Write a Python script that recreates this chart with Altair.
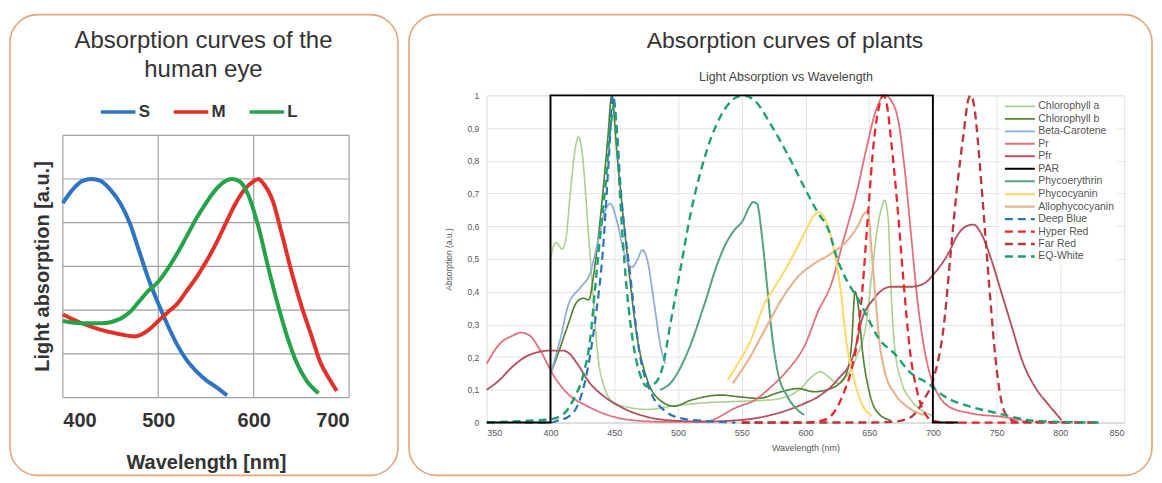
import altair as alt
import pandas as pd

# ---------------- Left panel: human eye cones ----------------
cone_names = ["S", "M", "L"]
cone_colors = ["#2f74c0", "#e0312b", "#26a24b"]

s_wl = [400, 410, 420, 430, 440, 450, 460, 470, 480, 490, 500, 510, 520, 530, 540, 550, 560, 572]
s_abs = [0.89, 0.95, 0.99, 1.0, 0.99, 0.95, 0.89, 0.80, 0.67, 0.54, 0.43, 0.33, 0.24, 0.17, 0.12, 0.08, 0.05, 0.01]

m_wl = [400, 420, 440, 460, 475, 490, 500, 510, 520, 530, 540, 550, 560, 570, 580, 590, 600, 605, 610, 620, 630, 640, 650, 660, 670, 680, 687]
m_abs = [0.38, 0.34, 0.31, 0.29, 0.28, 0.31, 0.35, 0.39, 0.43, 0.49, 0.55, 0.62, 0.70, 0.79, 0.88, 0.95, 0.99, 1.0, 0.98, 0.90, 0.74, 0.57, 0.42, 0.29, 0.16, 0.08, 0.03]

l_wl = [400, 420, 440, 460, 470, 480, 490, 500, 510, 520, 530, 540, 550, 560, 570, 577, 585, 595, 605, 615, 625, 635, 645, 655, 668]
l_abs = [0.35, 0.34, 0.34, 0.36, 0.39, 0.44, 0.49, 0.53, 0.59, 0.66, 0.74, 0.82, 0.89, 0.95, 0.99, 1.0, 0.99, 0.92, 0.78, 0.60, 0.43, 0.28, 0.16, 0.08, 0.02]

eye_x_ticks = [400, 500, 600, 700]
eye_y_ticks = [0, 0.2, 0.4, 0.6, 0.8, 1.0, 1.2]
eye_title_lines = ["Absorption curves of the", "human eye"]

# ---------------- Right panel: plants ----------------
plant_names = ["Chlorophyll a", "Chlorophyll b", "Beta-Carotene", "Pr", "Pfr", "PAR",
               "Phycoerythrin", "Phycocyanin", "Allophycocyanin", "Deep Blue",
               "Hyper Red", "Far Red", "EQ-White"]
plant_colors = ["#a9d18e", "#548235", "#8faadc", "#e2707a", "#b4505f", "#000000",
                "#55a37e", "#ffd966", "#e6b38f", "#2e75b6",
                "#e8242c", "#b83840", "#20a070"]
plant_widths = [1.6, 2.4, 1.3, 1.3, 1.3, 3.0, 1.4, 1.4, 1.4, 3.0, 3.0, 3.0, 3.0]
plant_dashes = [[1, 0]] * 9 + [[8, 5]] * 4

chla_wl = [400, 404, 407, 409, 412, 416, 420, 422, 425, 429, 433, 437, 442, 450, 463, 476, 495, 520, 550, 575, 595, 605, 612, 618, 625, 632, 640, 648, 652, 656, 660, 662, 665, 667, 670, 675, 683, 693, 700]
chla_abs = [0.50, 0.55, 0.54, 0.53, 0.56, 0.72, 0.85, 0.873, 0.82, 0.62, 0.41, 0.21, 0.11, 0.06, 0.045, 0.04, 0.05, 0.06, 0.065, 0.07, 0.10, 0.14, 0.155, 0.14, 0.12, 0.14, 0.20, 0.31, 0.45, 0.58, 0.66, 0.68, 0.62, 0.42, 0.23, 0.13, 0.068, 0.033, 0.02]

chlb_wl = [400, 405, 413, 421, 426, 430, 434, 439, 445, 448, 452, 460, 468, 476, 486, 497, 510, 534, 547, 563, 581, 594, 607, 620, 631, 636, 639, 641, 645, 651, 658, 667]
chlb_abs = [0.15, 0.20, 0.29, 0.37, 0.38, 0.375, 0.455, 0.62, 0.87, 1.0, 0.83, 0.52, 0.26, 0.13, 0.068, 0.05, 0.068, 0.084, 0.079, 0.074, 0.094, 0.104, 0.094, 0.104, 0.14, 0.23, 0.40, 0.37, 0.21, 0.08, 0.025, 0.007]

beta_wl = [401, 408, 414, 424, 431, 438, 443, 447, 452, 458, 464, 468, 472, 476, 481, 486, 490]
beta_abs = [0.16, 0.26, 0.36, 0.415, 0.455, 0.567, 0.649, 0.669, 0.618, 0.516, 0.475, 0.496, 0.527, 0.496, 0.374, 0.241, 0.18]

pr_wl = [350, 360, 370, 377, 384, 392, 403, 413, 429, 450, 470, 490, 520, 547, 560, 573, 586, 600, 610, 620, 630, 640, 648, 655, 662, 668, 673, 678, 683, 688, 694, 700, 705, 712, 730, 755, 770]
pr_abs = [0.18, 0.24, 0.265, 0.275, 0.265, 0.22, 0.14, 0.09, 0.05, 0.017, 0.005, 0.002, 0.002, 0.048, 0.068, 0.109, 0.16, 0.24, 0.34, 0.42, 0.56, 0.70, 0.84, 0.95, 1.0, 0.98, 0.92, 0.77, 0.57, 0.37, 0.21, 0.12, 0.08, 0.05, 0.028, 0.017, 0.007]

pfr_wl = [350, 360, 370, 380, 390, 400, 410, 415, 421, 431, 442, 455, 476, 500, 520, 547, 573, 599, 612, 625, 638, 644, 654, 667, 683, 693, 701, 712, 720, 728, 732, 738, 746, 754, 762, 770, 780, 790, 801]
pfr_abs = [0.10, 0.13, 0.17, 0.20, 0.215, 0.22, 0.22, 0.21, 0.18, 0.12, 0.08, 0.048, 0.017, 0.005, 0.003, 0.007, 0.023, 0.058, 0.084, 0.13, 0.21, 0.31, 0.38, 0.415, 0.415, 0.425, 0.455, 0.516, 0.577, 0.603, 0.605, 0.577, 0.496, 0.394, 0.292, 0.19, 0.109, 0.058, 0.007]

par_wl = [350, 400, 400, 700, 700, 720]
par_abs = [0, 0, 1, 1, 0, 0]

phe_wl = [486, 494, 507, 521, 531, 539, 544, 551, 556, 559, 562, 566, 570, 574, 578, 586, 594, 599]
phe_abs = [0.10, 0.12, 0.21, 0.364, 0.486, 0.557, 0.587, 0.618, 0.659, 0.674, 0.669, 0.567, 0.415, 0.262, 0.16, 0.079, 0.038, 0.023]

pc_wl = [539, 547, 557, 568, 576, 584, 591, 599, 607, 610, 617, 623, 628, 632, 637, 644, 652]
pc_abs = [0.13, 0.18, 0.25, 0.364, 0.415, 0.466, 0.516, 0.577, 0.633, 0.643, 0.608, 0.516, 0.394, 0.252, 0.15, 0.06, 0.02]

apc_wl = [543, 555, 568, 581, 594, 607, 620, 633, 641, 646, 649, 652, 655, 658, 662, 670, 680, 693]
apc_abs = [0.12, 0.19, 0.282, 0.374, 0.445, 0.486, 0.516, 0.557, 0.60, 0.638, 0.645, 0.52, 0.38, 0.25, 0.16, 0.089, 0.048, 0.023]

db_wl = [380, 400, 405, 415, 421, 429, 435, 441, 446, 449, 452, 455, 462, 470, 479, 490, 500, 520, 545]
db_abs = [0, 0, 0.005, 0.02, 0.05, 0.16, 0.31, 0.52, 0.82, 1.0, 0.9, 0.72, 0.47, 0.21, 0.09, 0.035, 0.015, 0.005, 0]

hr_wl = [550, 600, 612, 620, 630, 636, 641, 645, 649, 654, 658, 661, 664, 667, 672, 677, 682, 688, 695, 700, 710, 830]
hr_abs = [0, 0, 0.005, 0.02, 0.09, 0.16, 0.26, 0.42, 0.63, 0.87, 0.97, 1.0, 0.97, 0.87, 0.67, 0.43, 0.22, 0.09, 0.02, 0.005, 0, 0]

fr_wl = [550, 650, 670, 683, 693, 701, 709, 714, 719, 724, 728, 730, 733, 737, 741, 745, 749, 753, 758, 765, 830]
fr_abs = [0, 0, 0.003, 0.017, 0.07, 0.14, 0.31, 0.52, 0.72, 0.88, 0.99, 1.0, 0.95, 0.78, 0.58, 0.38, 0.20, 0.08, 0.02, 0.003, 0]

eq_wl = [350, 380, 400, 410, 418, 426, 431, 435, 439, 443, 447, 450, 453, 456, 460, 465, 470, 476, 482, 488, 494, 502, 510, 518, 526, 534, 544, 551, 560, 573, 586, 599, 610, 618, 625, 633, 641, 649, 657, 670, 683, 696, 709, 728, 749, 765, 780, 830]
eq_abs = [0, 0.005, 0.01, 0.025, 0.07, 0.15, 0.25, 0.41, 0.57, 0.72, 0.90, 0.97, 0.80, 0.60, 0.40, 0.24, 0.15, 0.11, 0.12, 0.17, 0.30, 0.47, 0.64, 0.77, 0.87, 0.94, 0.99, 1.0, 0.985, 0.91, 0.82, 0.72, 0.64, 0.59, 0.50, 0.43, 0.38, 0.32, 0.26, 0.21, 0.15, 0.12, 0.08, 0.05, 0.03, 0.015, 0.005, 0]

plant_x_ticks = [350, 400, 450, 500, 550, 600, 650, 700, 750, 800, 850]
plant_y_ticks = [0, 0.1, 0.2, 0.3, 0.4, 0.5, 0.6, 0.7, 0.8, 0.9, 1.0]

FONT = "Liberation Sans"
BORDER = "#e3a579"
EYE_GRID = "#a0a0a0"

# ---------- build tables ----------
rows = []
for name, xs, ys in [("S", s_wl, s_abs), ("M", m_wl, m_abs), ("L", l_wl, l_abs)]:
    for a, b in zip(xs, ys):
        rows.append({"cone": name, "wl": a, "abs": b})
eye_df = pd.DataFrame(rows)

x_lo, x_hi = eye_x_ticks[0], eye_x_ticks[-1]
y_lo, y_hi = eye_y_ticks[0], eye_y_ticks[-1]
vgrid_df = pd.DataFrame({"wl": eye_x_ticks, "abs": [y_lo] * len(eye_x_ticks),
                         "abs2": [y_hi] * len(eye_x_ticks)})
hgrid_df = pd.DataFrame({"abs": eye_y_ticks, "wl": [x_lo] * len(eye_y_ticks),
                         "wl2": [x_hi] * len(eye_y_ticks)})

series_data = [
    ("Chlorophyll a", chla_wl, chla_abs), ("Chlorophyll b", chlb_wl, chlb_abs),
    ("Beta-Carotene", beta_wl, beta_abs), ("Pr", pr_wl, pr_abs), ("Pfr", pfr_wl, pfr_abs),
    ("Phycoerythrin", phe_wl, phe_abs), ("Phycocyanin", pc_wl, pc_abs),
    ("Allophycocyanin", apc_wl, apc_abs), ("Deep Blue", db_wl, db_abs),
    ("Hyper Red", hr_wl, hr_abs), ("Far Red", fr_wl, fr_abs), ("EQ-White", eq_wl, eq_abs),
]
rows = []
for name, xs, ys in series_data:
    for i, (a, b) in enumerate(zip(xs, ys)):
        rows.append({"series": name, "wl": a, "abs": b, "i": i})
plant_df = pd.DataFrame(rows)
par_df = pd.DataFrame({"series": ["PAR"] * len(par_wl), "wl": par_wl, "abs": par_abs,
                       "i": list(range(len(par_wl)))})

one = pd.DataFrame({"a": [0]})

# ---------- left chart ----------
LH = 303
eye_x_scale = alt.Scale(domain=[x_lo, x_hi], nice=False)
eye_y_scale = alt.Scale(domain=[y_lo, y_hi], range=[LH, 40], nice=False)

eye_x_axis = alt.Axis(values=eye_x_ticks, title="Wavelength [nm]", grid=False,
                      ticks=False, domain=False,
                      labelFontSize=20, labelFontWeight="bold", labelColor="#333333",
                      labelPadding=13, titleFontSize=20, titleFontWeight="bold",
                      titleColor="#333333", titlePadding=22, labelFont=FONT, titleFont=FONT)
eye_y_axis = alt.Axis(values=eye_y_ticks, labels=False, ticks=False, domain=False,
                      grid=False, title="Light absorption [a.u.]",
                      titleFontSize=20, titleFontWeight="bold", titleColor="#333333",
                      titlePadding=10, titleY=171, titleFont=FONT)

left_border = alt.Chart(one).mark_rect(
    fillOpacity=0, stroke=BORDER, strokeWidth=1.6, cornerRadius=28
).encode(x=alt.value(-53), x2=alt.value(336), y=alt.value(-81), y2=alt.value(381))

eye_vgrid = alt.Chart(vgrid_df).mark_rule(color=EYE_GRID, strokeWidth=1.2).encode(
    x=alt.X("wl:Q", scale=eye_x_scale, axis=eye_x_axis),
    y=alt.Y("abs:Q", scale=eye_y_scale, axis=eye_y_axis),
    y2="abs2:Q")

eye_hgrid = alt.Chart(hgrid_df).mark_rule(color=EYE_GRID, strokeWidth=1.2).encode(
    x=alt.X("wl:Q", scale=eye_x_scale, axis=eye_x_axis),
    x2="wl2:Q",
    y=alt.Y("abs:Q", scale=eye_y_scale, axis=eye_y_axis))

eye_lines = alt.Chart(eye_df).mark_line(interpolate="monotone", strokeWidth=4).encode(
    x=alt.X("wl:Q", scale=eye_x_scale, axis=eye_x_axis),
    y=alt.Y("abs:Q", scale=eye_y_scale, axis=eye_y_axis),
    color=alt.Color("cone:N", scale=alt.Scale(domain=cone_names, range=cone_colors),
                    legend=alt.Legend(orient="none", legendX=36, legendY=-3,
                                      direction="horizontal", title=None,
                                      symbolType="stroke", symbolSize=1200,
                                      symbolStrokeWidth=3.5, labelFontSize=17,
                                      labelFontWeight="bold", labelColor="#333333",
                                      labelFont=FONT, labelOffset=1, columnPadding=16)),
)

eye_title1 = alt.Chart(pd.DataFrame({"t": [eye_title_lines[0]]})).mark_text(
    fontSize=24, font=FONT, color="#333333", baseline="alphabetic", align="center"
).encode(text="t:N", x=alt.value(141), y=alt.value(-48))
eye_title2 = alt.Chart(pd.DataFrame({"t": [eye_title_lines[1]]})).mark_text(
    fontSize=24, font=FONT, color="#333333", baseline="alphabetic", align="center"
).encode(text="t:N", x=alt.value(141), y=alt.value(-18))

left = alt.layer(left_border, eye_vgrid, eye_hgrid, eye_lines,
                 eye_title1, eye_title2).properties(
    width=287, height=LH, view=alt.ViewBackground(stroke="transparent")
)

# ---------- right chart ----------
color_scale = alt.Scale(domain=plant_names, range=plant_colors)
dash_scale = alt.Scale(domain=plant_names, range=plant_dashes)
width_scale = alt.Scale(domain=plant_names, range=plant_widths)
plant_legend = alt.Legend(orient="none", legendX=515, legendY=2, title=None,
                          symbolType="M-1,0H5", symbolSize=100, labelFontSize=10.5,
                          labelColor="#555555", labelFont=FONT, rowPadding=0.5,
                          labelOffset=22, fillColor="white", padding=3)

x_enc = alt.X("wl:Q", scale=alt.Scale(domain=[350, 850], nice=False),
              axis=alt.Axis(values=plant_x_ticks, title="Wavelength (nm)", grid=True,
                            gridColor="#e3e3e3", ticks=False, domainColor="#d0d0d0",
                            labelFontSize=9, labelColor="#555555", labelPadding=6,
                            titleFontSize=9, titleFontWeight="normal", titleColor="#555555",
                            titlePadding=6, labelFont=FONT, titleFont=FONT))
y_enc = alt.Y("abs:Q", scale=alt.Scale(domain=[0, 1], nice=False),
              axis=alt.Axis(values=plant_y_ticks, title="Absorption (a.u.)", grid=True,
                            gridColor="#e3e3e3", ticks=False, domain=False,
                            labelExpr="datum.value == 0 ? '0' : datum.value == 1 ? '1' : replace(format(datum.value, '.1f'), '.', ',')",
                            labelFontSize=8.5, labelColor="#555555", labelPadding=8,
                            titleFontSize=8.5, titleFontWeight="normal", titleColor="#555555",
                            titlePadding=14, labelFont=FONT, titleFont=FONT))

enc = dict(
    x=x_enc, y=y_enc,
    color=alt.Color("series:N", scale=color_scale, legend=plant_legend),
    strokeDash=alt.StrokeDash("series:N", scale=dash_scale, legend=plant_legend),
    strokeWidth=alt.StrokeWidth("series:N", scale=width_scale, legend=plant_legend),
    order=alt.Order("i:Q"),
)

plant_lines = alt.Chart(plant_df).mark_line(interpolate="monotone").encode(**enc)
par_line = alt.Chart(par_df).mark_line(interpolate="linear").encode(**enc)

right_border = alt.Chart(one).mark_rect(
    fillOpacity=0, stroke=BORDER, strokeWidth=1.6, cornerRadius=28
).encode(x=alt.value(-78), x2=alt.value(667), y=alt.value(-81), y2=alt.value(381))

plant_title = alt.Chart(pd.DataFrame({"t": ["Absorption curves of plants"]})).mark_text(
    fontSize=23, font=FONT, color="#333333", baseline="alphabetic", align="center"
).encode(text="t:N", x=alt.value(299), y=alt.value(-48))

plant_subtitle = alt.Chart(pd.DataFrame({"t": ["Light Absorption vs Wavelength"]})).mark_text(
    fontSize=12.5, font=FONT, color="#444444", baseline="alphabetic", align="center"
).encode(text="t:N", x=alt.value(300), y=alt.value(-14))

right = alt.layer(right_border, plant_lines, par_line, plant_title, plant_subtitle).properties(
    width=639, height=328, view=alt.ViewBackground(stroke="#e3e3e3")
)

chart = alt.hconcat(left, right, spacing=7).resolve_scale(
    x="independent", y="independent", color="independent",
    strokeDash="independent", strokeWidth="independent"
).resolve_legend(color="independent", strokeDash="independent", strokeWidth="independent"
).properties(
    padding={"left": 0, "top": 4, "right": 0, "bottom": 0}
).configure(font=FONT)

chart.save("out.html", embed_options={"renderer": "svg", "actions": False})
